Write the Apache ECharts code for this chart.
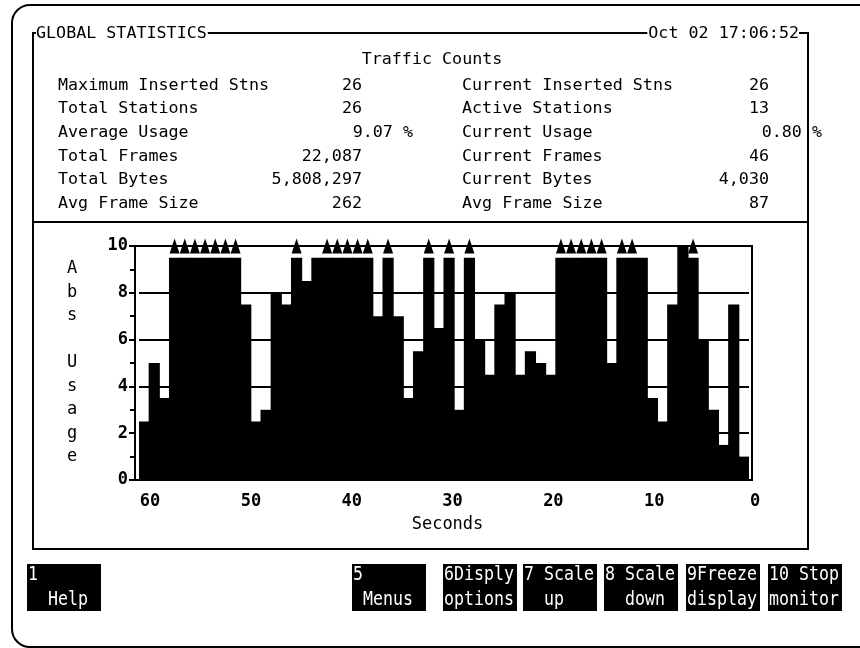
<!DOCTYPE html>
<html>
<head>
<meta charset="utf-8">
<script src="https://cdn.jsdelivr.net/npm/echarts@6/dist/echarts.min.js"></script>
<style>
html,body{margin:0;padding:0;background:#fff;}
#c{width:860px;height:648px;}
</style>
</head>
<body>
<div id="c"></div>
<script>
// ---------------- data ----------------
const seconds = [60,59,58,57,56,55,54,53,52,51,50,49,48,47,46,45,44,43,42,41,
                 40,39,38,37,36,35,34,33,32,31,30,29,28,27,26,25,24,23,22,21,
                 20,19,18,17,16,15,14,13,12,11,10,9,8,7,6,5,4,3,2,1];
const usage = [2.5, 5, 3.5,
               9.5, 9.5, 9.5, 9.5, 9.5, 9.5, 9.5,
               7.5, 2.5, 3, 8, 7.5, 9.5, 8.5, 9.5,
               9.5, 9.5, 9.5, 9.5, 9.5,
               7, 9.5, 7, 3.5, 5.5, 9.5, 6.5, 9.5, 3, 9.5,
               6, 4.5, 7.5, 8, 4.5, 5.5, 5, 4.5,
               9.5, 9.5, 9.5, 9.5, 9.5,
               5, 9.5, 9.5, 9.5,
               3.5, 2.5, 7.5, 10, 9.5, 6, 3, 1.5, 7.5, 1];
// 1 = off-scale marker (triangle) shown above the bar
const overflow = [0,0,0,
                  1,1,1,1,1,1,1,
                  0,0,0,0,0,1,0,0,
                  1,1,1,1,1,
                  0,1,0,0,0,1,0,1,0,1,
                  0,0,0,0,0,0,0,0,
                  1,1,1,1,1,
                  0,1,1,0,
                  0,0,0,0,1,0,0,0,0,0];
const xTickLabels = [60,50,40,30,20,10,0];
const yTickLabels = [0,2,4,6,8,10];

const titleText = 'GLOBAL STATISTICS';
const dateText = 'Oct 02 17:06:52';
const sectionText = 'Traffic Counts';
const leftLabels = ['Maximum Inserted Stns','Total Stations','Average Usage','Total Frames','Total Bytes','Avg Frame Size'];
const leftValues = ['26','26','9.07 %','22,087','5,808,297','262'];
const rightLabels = ['Current Inserted Stns','Active Stations','Current Usage','Current Frames','Current Bytes','Avg Frame Size'];
const rightValues = ['26','13','0.80 %','46','4,030','87'];
const keyLabels = [['1','  Help'],['5',' Menus'],['6Disply','options'],['7 Scale','  up'],['8 Scale','  down'],['9Freeze','display'],['10 Stop','monitor']];
const yAxisTitle = 'Abs Usage';
const xAxisTitle = 'Seconds';

// ---------------- layout ----------------
const MONO = "'DejaVu Sans Mono', 'Liberation Mono', monospace";
const BLACK = '#000';
const HFONT = 16.7;
const rowY0 = 85.5, rowStep = 23.6;
const keyBoxX = [27, 352, 443, 523, 604, 686, 768];
const keyBoxW = 74, keyBoxTop = 564, keyBoxH = 47;

const graphics = [];
// outer rounded screen frame
graphics.push({type:'rect', shape:{x:12, y:5, width:900, height:642, r:18},
  style:{fill:'none', stroke:BLACK, lineWidth:2}, z:0});
// inner box
graphics.push({type:'rect', shape:{x:33, y:33, width:775, height:516},
  style:{fill:'none', stroke:BLACK, lineWidth:2}, z:0});
graphics.push({type:'line', shape:{x1:33, y1:222, x2:808, y2:222},
  style:{stroke:BLACK, lineWidth:2}, z:0});
// title & date on the box line
graphics.push({type:'text', x:36, y:34, z:2, style:{text:titleText, font:HFONT+'px '+MONO, fill:BLACK,
  textAlign:'left', textVerticalAlign:'middle', backgroundColor:'#fff', padding:[0,1,0,0]}});
graphics.push({type:'text', x:799, y:34, z:2, style:{text:dateText, font:HFONT+'px '+MONO, fill:BLACK,
  textAlign:'right', textVerticalAlign:'middle', backgroundColor:'#fff', padding:[0,0,0,1]}});
graphics.push({type:'text', x:432, y:60, z:2, style:{text:sectionText, font:HFONT+'px '+MONO, fill:BLACK,
  textAlign:'center', textVerticalAlign:'middle'}});
leftLabels.forEach((t,i)=>{
  const y = rowY0 + i*rowStep;
  graphics.push({type:'text', x:58, y:y, z:2, style:{text:t, font:HFONT+'px '+MONO, fill:BLACK, textAlign:'left', textVerticalAlign:'middle'}});
  const v = leftValues[i];
  graphics.push({type:'text', x:(v.indexOf('%')>=0?413:362), y:y, z:2, style:{text:v, font:HFONT+'px '+MONO, fill:BLACK, textAlign:'right', textVerticalAlign:'middle'}});
});
rightLabels.forEach((t,i)=>{
  const y = rowY0 + i*rowStep;
  graphics.push({type:'text', x:462, y:y, z:2, style:{text:t, font:HFONT+'px '+MONO, fill:BLACK, textAlign:'left', textVerticalAlign:'middle'}});
  const v = rightValues[i];
  graphics.push({type:'text', x:(v.indexOf('%')>=0?822:769), y:y, z:2, style:{text:v, font:HFONT+'px '+MONO, fill:BLACK, textAlign:'right', textVerticalAlign:'middle'}});
});
// function keys
keyLabels.forEach((lines,i)=>{
  const x = keyBoxX[i];
  graphics.push({type:'rect', shape:{x:x, y:keyBoxTop, width:keyBoxW, height:keyBoxH}, style:{fill:BLACK}, z:1});
  graphics.push({type:'text', x:x+1, y:575, scaleX:0.83, z:2, style:{text:lines[0], font:'20px '+MONO, fill:'#fff', textAlign:'left', textVerticalAlign:'middle'}});
  graphics.push({type:'text', x:x+1, y:600, scaleX:0.83, z:2, style:{text:lines[1], font:'20px '+MONO, fill:'#fff', textAlign:'left', textVerticalAlign:'middle'}});
});

const axisFont = {fontFamily:MONO, fontSize:17, fontWeight:'bold', color:BLACK};
const lineBlack = {color:BLACK, width:2};

const option = {
  animation:false,
  backgroundColor:'#fff',
  grid:[
    {left:139, right:111, top:246, bottom:168},
    {left:135, right:108, top:246, bottom:168, show:true, borderColor:BLACK, borderWidth:2, backgroundColor:'rgba(0,0,0,0)'},
    {left:140, right:105, top:246, bottom:168}
  ],
  xAxis:[
    {type:'category', gridIndex:0, data:seconds, boundaryGap:true,
     axisLine:{show:false}, axisTick:{show:false}, axisLabel:{show:false}, splitLine:{show:false}},
    {type:'value', gridIndex:1, show:false, min:0, max:1},
    {type:'value', gridIndex:2, inverse:true, min:0, max:61, interval:10,
     axisLine:{show:false}, axisTick:{show:false}, splitLine:{show:false},
     axisLabel:Object.assign({customValues:xTickLabels, margin:13, showMinLabel:true, showMaxLabel:true, hideOverlap:false}, axisFont),
     name:xAxisTitle, nameLocation:'middle', nameGap:36,
     nameTextStyle:{fontFamily:MONO, fontSize:17, color:BLACK}}
  ],
  yAxis:[
    {type:'value', gridIndex:0, min:0, max:10, interval:2, offset:4,
     axisLine:{show:true, lineStyle:lineBlack},
     axisTick:{show:true, length:6, lineStyle:lineBlack},
     minorTick:{show:true, splitNumber:2, length:5, lineStyle:lineBlack},
     axisLabel:Object.assign({customValues:yTickLabels, margin:7}, axisFont),
     splitLine:{show:true, lineStyle:lineBlack},
     name:yAxisTitle.split('').join('\n'), nameLocation:'middle', nameRotate:0, nameGap:63,
     nameTextStyle:{fontFamily:MONO, fontSize:17, color:BLACK, lineHeight:23.5, align:'center', verticalAlign:'middle'}},
    {type:'value', gridIndex:1, show:false, min:0, max:1},
    {type:'value', gridIndex:2, show:false, min:0, max:1}
  ],
  series:[
    {type:'bar', xAxisIndex:0, yAxisIndex:0, data:usage, barWidth:11.2,
     itemStyle:{color:BLACK, opacity:1}, silent:true, z:3},
    {type:'scatter', xAxisIndex:0, yAxisIndex:0, data:overflow.map(f => f ? 10 : '-'),
     symbol:'triangle', symbolSize:[10,15], itemStyle:{color:BLACK, opacity:1}, silent:true, z:5, clip:false}
  ],
  graphic:graphics
};

const chart = echarts.init(document.getElementById('c'), null, {renderer:'canvas'});
chart.setOption(option);
</script>
</body>
</html>
